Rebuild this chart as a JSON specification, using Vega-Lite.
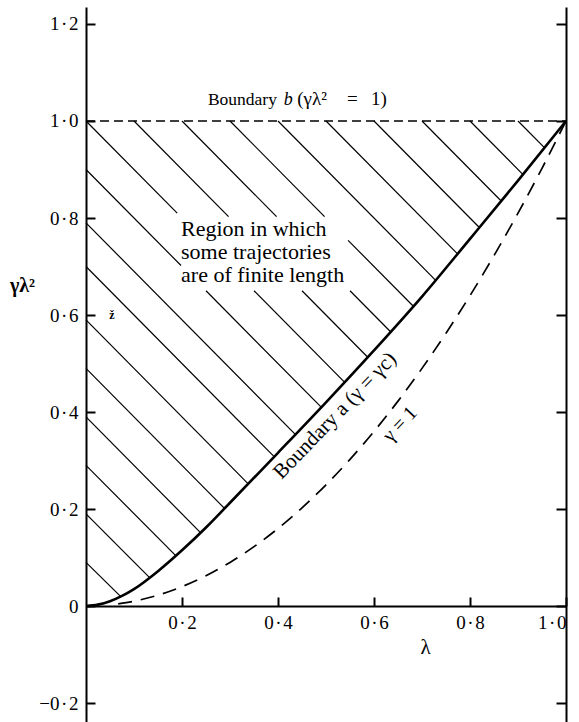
{
  "$schema": "https://vega.github.io/schema/vega-lite/v6.json",
  "width": 480,
  "height": 715,
  "autosize": {"type": "none"},
  "padding": {"left": 86, "top": 7, "right": 13, "bottom": 0},
  "background": "white",
  "config": {
    "view": {"stroke": null},
    "font": "Liberation Serif",
    "axis": {
      "labelFont": "Liberation Serif",
      "labelFontSize": 19,
      "labelColor": "black",
      "tickColor": "black",
      "domainColor": "black",
      "domainWidth": 2,
      "tickWidth": 2,
      "grid": false,
      "titleFont": "Liberation Serif",
      "titleColor": "black"
    }
  },
  "datasets": {
    "hatch": [
      {"x": 0, "y": 0.09, "x2": 0.072, "y2": 0.02},
      {"x": 0, "y": 0.19, "x2": 0.133, "y2": 0.058},
      {"x": 0, "y": 0.29, "x2": 0.188, "y2": 0.103},
      {"x": 0, "y": 0.39, "x2": 0.239, "y2": 0.151},
      {"x": 0, "y": 0.49, "x2": 0.289, "y2": 0.201},
      {"x": 0, "y": 0.59, "x2": 0.338, "y2": 0.252},
      {"x": 0, "y": 0.70, "x2": 0.392, "y2": 0.308},
      {"x": 0, "y": 0.79, "x2": 0.436, "y2": 0.354},
      {"x": 0, "y": 0.90, "x2": 0.198, "y2": 0.702},
      {"x": 0.25, "y": 0.65, "x2": 0.490, "y2": 0.410},
      {"x": 0, "y": 1.0, "x2": 0.19, "y2": 0.81},
      {"x": 0.35, "y": 0.65, "x2": 0.539, "y2": 0.461},
      {"x": 0.1, "y": 1.0, "x2": 0.297, "y2": 0.803},
      {"x": 0.45, "y": 0.65, "x2": 0.587, "y2": 0.513},
      {"x": 0.2, "y": 1.0, "x2": 0.397, "y2": 0.803},
      {"x": 0.55, "y": 0.65, "x2": 0.635, "y2": 0.565},
      {"x": 0.3, "y": 1.0, "x2": 0.497, "y2": 0.803},
      {"x": 0.546, "y": 0.754, "x2": 0.682, "y2": 0.618},
      {"x": 0.4, "y": 1.0, "x2": 0.728, "y2": 0.672},
      {"x": 0.5, "y": 1.0, "x2": 0.774, "y2": 0.726},
      {"x": 0.6, "y": 1.0, "x2": 0.820, "y2": 0.780},
      {"x": 0.7, "y": 1.0, "x2": 0.865, "y2": 0.835},
      {"x": 0.8, "y": 1.0, "x2": 0.910, "y2": 0.890},
      {"x": 0.9, "y": 1.0, "x2": 0.955, "y2": 0.945}
    ],
    "curveA": [
      {"x": 0, "y": 0},
      {"x": 0.025, "y": 0.003},
      {"x": 0.05, "y": 0.01},
      {"x": 0.075, "y": 0.021},
      {"x": 0.1, "y": 0.035},
      {"x": 0.15, "y": 0.072},
      {"x": 0.2, "y": 0.115},
      {"x": 0.25, "y": 0.162},
      {"x": 0.3, "y": 0.213},
      {"x": 0.4, "y": 0.316},
      {"x": 0.5, "y": 0.42},
      {"x": 0.6, "y": 0.527},
      {"x": 0.7, "y": 0.638},
      {"x": 0.8, "y": 0.757},
      {"x": 0.9, "y": 0.877},
      {"x": 1.0, "y": 1.0}
    ],
    "curveG": [
      {"x": 0.067, "y": 0.0045},
      {"x": 0.1, "y": 0.01},
      {"x": 0.15, "y": 0.0225},
      {"x": 0.2, "y": 0.04},
      {"x": 0.25, "y": 0.0625},
      {"x": 0.3, "y": 0.09},
      {"x": 0.35, "y": 0.1225},
      {"x": 0.4, "y": 0.16},
      {"x": 0.45, "y": 0.2025},
      {"x": 0.5, "y": 0.25},
      {"x": 0.55, "y": 0.3025},
      {"x": 0.6, "y": 0.36},
      {"x": 0.65, "y": 0.4225},
      {"x": 0.7, "y": 0.49},
      {"x": 0.75, "y": 0.5625},
      {"x": 0.8, "y": 0.64},
      {"x": 0.85, "y": 0.7225},
      {"x": 0.9, "y": 0.81},
      {"x": 0.95, "y": 0.9025},
      {"x": 1.0, "y": 1.0}
    ],
    "boundB": [
      {"x": 0, "y": 1.0},
      {"x": 1.0, "y": 1.0}
    ]
  },
  "layer": [
    {
      "data": {"name": "hatch"},
      "mark": {"type": "rule", "color": "black", "strokeWidth": 1.2},
      "encoding": {
        "x": {
          "field": "x", "type": "quantitative",
          "scale": {"domain": [0, 1], "nice": false, "zero": false},
          "axis": {
            "orient": "bottom",
            "offset": -116,
            "values": [0.2, 0.4, 0.6, 0.8, 1.0],
            "tickSize": -9,
            "labelPadding": 16,
            "labelFont": "Liberation Serif",
            "labelFontSize": 19,
            "labelExpr": "replace(format(datum.value, '.1f'), '.', '\u200a·\u200a')",
            "title": "λ",
            "titleFontSize": 21,
            "titleFontWeight": "normal",
            "titleX": 339,
            "titleY": 41,
            "titleBaseline": "middle",
            "titleAlign": "center"
          }
        },
        "y": {
          "field": "y", "type": "quantitative",
          "scale": {"domain": [-0.239, 1.235], "nice": false, "zero": false},
          "axis": {
            "orient": "left",
            "values": [-0.2, 0, 0.2, 0.4, 0.6, 0.8, 1.0, 1.2],
            "tickSize": -9,
            "labelPadding": 17,
            "labelFont": "Liberation Serif",
            "labelFontSize": 19,
            "labelExpr": "datum.value == 0 ? '0' : replace(format(datum.value, '.1f'), '.', '\u200a·\u200a')",
            "title": "γλ²",
            "titleFontSize": 20,
            "titleFontWeight": "bold",
            "titleAngle": 0,
            "titleX": -64,
            "titleY": 278,
            "titleAlign": "center",
            "titleBaseline": "middle"
          }
        },
        "x2": {"field": "x2"},
        "y2": {"field": "y2"}
      }
    },
    {
      "data": {"name": "curveA"},
      "mark": {"type": "line", "color": "black", "strokeWidth": 2.6, "interpolate": "monotone"},
      "encoding": {
        "x": {"field": "x", "type": "quantitative"},
        "y": {
          "field": "y", "type": "quantitative",
          "axis": {
            "orient": "right",
            "values": [-0.2, 0, 0.2, 0.4, 0.6, 0.8, 1.0, 1.2],
            "tickSize": -10,
            "labels": false,
            "title": null
          }
        }
      }
    },
    {
      "data": {"name": "curveG"},
      "mark": {"type": "line", "color": "black", "strokeWidth": 1.7, "strokeDash": [14, 9], "interpolate": "monotone"},
      "encoding": {
        "x": {"field": "x", "type": "quantitative"},
        "y": {"field": "y", "type": "quantitative", "axis": null}
      }
    },
    {
      "data": {"name": "boundB"},
      "mark": {"type": "line", "color": "black", "strokeWidth": 1.7, "strokeDash": [9, 5]},
      "encoding": {
        "x": {"field": "x", "type": "quantitative"},
        "y": {"field": "y", "type": "quantitative", "axis": null}
      }
    },
    {
      "data": {"values": [
        {"t": "Boundary", "x": 0.254, "y": 1.033}
      ]},
      "mark": {"type": "text", "align": "left", "baseline": "alphabetic", "fontSize": 17.5, "font": "Liberation Serif", "color": "black"},
      "encoding": {
        "x": {"field": "x", "type": "quantitative"},
        "y": {"field": "y", "type": "quantitative", "axis": null},
        "text": {"field": "t"}
      }
    },
    {
      "data": {"values": [
        {"t": "(γλ²", "x": 0.44, "y": 1.033},
        {"t": "=", "x": 0.544, "y": 1.033},
        {"t": "1)", "x": 0.594, "y": 1.033}
      ]},
      "mark": {"type": "text", "align": "left", "baseline": "alphabetic", "fontSize": 19, "font": "Liberation Serif", "color": "black"},
      "encoding": {
        "x": {"field": "x", "type": "quantitative"},
        "y": {"field": "y", "type": "quantitative", "axis": null},
        "text": {"field": "t"}
      }
    },
    {
      "data": {"values": [{"t": "b", "x": 0.412, "y": 1.033}]},
      "mark": {"type": "text", "align": "left", "baseline": "alphabetic", "fontSize": 18, "fontStyle": "italic", "font": "Liberation Serif", "color": "black"},
      "encoding": {
        "x": {"field": "x", "type": "quantitative"},
        "y": {"field": "y", "type": "quantitative", "axis": null},
        "text": {"field": "t"}
      }
    },
    {
      "data": {"values": [{"t": "Region in which\nsome trajectories\nare of finite length", "x": 0.198, "y": 0.763}]},
      "mark": {"type": "text", "align": "left", "baseline": "alphabetic", "fontSize": 22, "lineHeight": 23, "lineBreak": "\n", "font": "Liberation Serif", "color": "black"},
      "encoding": {
        "x": {"field": "x", "type": "quantitative"},
        "y": {"field": "y", "type": "quantitative", "axis": null},
        "text": {"field": "t"}
      }
    },
    {
      "data": {"values": [{"t": "Boundary a (γ = γc)", "x": 0.519, "y": 0.392}]},
      "mark": {"type": "text", "align": "center", "baseline": "middle", "angle": 314, "fontSize": 21, "font": "Liberation Serif", "color": "black"},
      "encoding": {
        "x": {"field": "x", "type": "quantitative"},
        "y": {"field": "y", "type": "quantitative", "axis": null},
        "text": {"field": "t"}
      }
    },
    {
      "data": {"values": [{"t": "γ = 1", "x": 0.654, "y": 0.375}]},
      "mark": {"type": "text", "align": "center", "baseline": "middle", "angle": 313, "fontSize": 20, "font": "Liberation Serif", "color": "black"},
      "encoding": {
        "x": {"field": "x", "type": "quantitative"},
        "y": {"field": "y", "type": "quantitative", "axis": null},
        "text": {"field": "t"}
      }
    },
    {
      "data": {"values": [{"t": "ž", "x": 0.054, "y": 0.6}]},
      "mark": {"type": "text", "align": "center", "baseline": "middle", "fontSize": 12, "fontWeight": "bold", "font": "Liberation Serif", "color": "black"},
      "encoding": {
        "x": {"field": "x", "type": "quantitative"},
        "y": {"field": "y", "type": "quantitative", "axis": null},
        "text": {"field": "t"}
      }
    }
  ],
  "resolve": {"axis": {"y": "independent"}}
}
